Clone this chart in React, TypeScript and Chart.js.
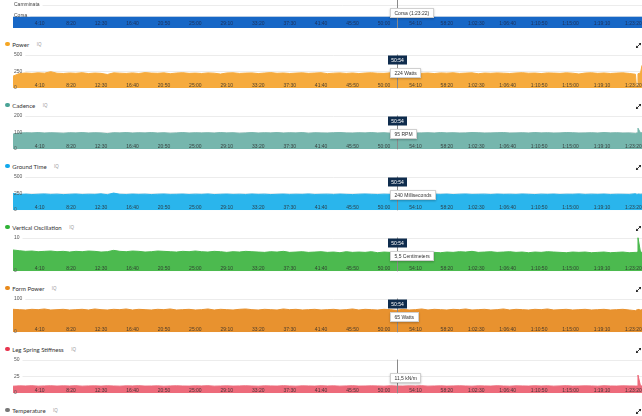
import React, { useEffect, useRef } from 'react';
import { Chart, registerables } from 'chart.js';
Chart.register(...registerables);

// ---------- data ----------
const SAMPLE_SEC = 50;
const BODY_COUNT = 100;
const tailTimes = [4958, 4964, 4970, 4990, 5002];
const END_SEC = 5002;
const CURSOR_SEC = 3054;
const CURSOR_LABEL = '50:54';

const xTickSeconds = [250, 500, 750, 1000, 1250, 1500, 1750, 2000, 2250, 2500, 2750, 3000, 3250, 3500, 3750, 4000, 4250, 4500, 4750, 5000];
const xTickLabels = ['4:10', '8:20', '12:30', '16:40', '20:50', '25:00', '29:10', '33:20', '37:30', '41:40', '45:50', '50:00', '54:10', '58:20', '1:02:30', '1:06:40', '1:10:50', '1:15:00', '1:19:10', '1:23:20'];

const activityCategories = ['Camminata', 'Corsa'];
const activitySegments: (number[] | null)[] = [null, [0, 5002]];
const activityTooltip = 'Corsa (1:23:22)';

const powerValues = [
  180, 218, 226, 221, 229, 224, 246, 223, 219, 227,
  222, 231, 218, 226, 221, 204, 229, 224, 220, 228,
  219, 232, 225, 222, 229, 216, 226, 231, 221, 225,
  219, 228, 224, 211, 227, 230, 220, 225, 228, 218,
  226, 232, 222, 227, 219, 225, 229, 221, 226, 231,
  217, 224, 228, 220, 227, 218, 226, 230, 223, 221,
  229, 225, 224, 227, 231, 222, 226, 218, 228, 224,
  230, 220, 225, 229, 215, 226, 222, 228, 224, 219,
  227, 231, 223, 226, 218, 228, 225, 221, 229, 224,
  212, 226, 230, 221, 227, 219, 225, 229, 220, 208,
  20, 25, 215, 228, 340,
];
const powerTicks = [0, 250, 500];

const cadenceValues = [
  90, 96, 98, 97, 99, 96, 98, 97, 95, 98,
  97, 99, 96, 98, 97, 93, 98, 97, 99, 96,
  98, 97, 99, 96, 98, 95, 97, 99, 96, 98,
  97, 98, 96, 99, 97, 98, 95, 97, 99, 96,
  98, 97, 99, 96, 98, 97, 99, 95, 98, 97,
  96, 98, 99, 97, 96, 98, 97, 99, 96, 98,
  95, 97, 98, 99, 96, 97, 98, 96, 99, 97,
  98, 96, 97, 99, 98, 96, 97, 98, 99, 96,
  97, 98, 96, 99, 97, 98, 96, 97, 99, 98,
  96, 97, 98, 96, 99, 97, 98, 96, 97, 94,
  96, 97, 125, 97, 98,
];
const cadenceTicks = [0, 100, 200];

const groundValues = [
  250, 236, 240, 233, 238, 242, 235, 239, 232, 237,
  241, 234, 238, 236, 243, 231, 255, 237, 234, 240,
  236, 239, 233, 238, 241, 235, 237, 240, 234, 239,
  236, 242, 233, 237, 240, 235, 238, 234, 241, 236,
  239, 233, 237, 240, 235, 238, 236, 242, 234, 237,
  239, 235, 240, 236, 233, 238, 241, 237, 234, 239,
  236, 240, 235, 238, 242, 234, 237, 239, 236, 240,
  233, 238, 241, 235, 237, 239, 234, 240, 236, 238,
  235, 241, 237, 233, 239, 236, 240, 234, 238, 237,
  242, 235, 239, 236, 240, 234, 238, 237, 235, 245,
  238, 236, 240, 237, 239,
];
const groundTicks = [0, 250, 500];

const oscillationValues = [
  6.3, 6.1, 5.9, 6.0, 5.8, 5.9, 6.0, 5.8, 5.9, 5.7,
  5.9, 5.8, 6.0, 5.9, 5.7, 5.8, 6.2, 5.9, 5.8, 6.0,
  5.9, 5.7, 5.8, 6.0, 5.9, 5.8, 5.7, 5.9, 5.8, 6.0,
  5.8, 5.7, 5.9, 5.8, 5.6, 5.8, 5.7, 5.9, 5.8, 5.7,
  5.6, 5.8, 5.7, 5.9, 5.6, 5.7, 5.8, 5.6, 5.7, 5.8,
  5.6, 5.7, 5.5, 5.8, 5.6, 5.7, 5.6, 5.8, 5.5, 5.7,
  5.6, 5.5, 5.7, 5.6, 5.8, 5.5, 5.7, 5.6, 5.5, 5.7,
  5.6, 5.8, 5.7, 5.9, 5.6, 5.7, 5.8, 5.6, 5.7, 5.8,
  5.6, 5.7, 5.5, 5.7, 5.6, 5.8, 5.7, 5.6, 5.5, 5.7,
  5.6, 5.7, 5.5, 5.6, 5.7, 5.5, 5.6, 5.7, 5.5, 5.6,
  5.6, 5.7, 10.0, 5.7, 5.6,
];
const oscillationTicks = [0, 10];

const formPowerValues = [
  68, 67, 66, 68, 67, 69, 66, 67, 68, 66,
  67, 68, 66, 69, 67, 66, 68, 67, 69, 66,
  68, 67, 66, 68, 67, 69, 66, 67, 68, 66,
  67, 69, 66, 68, 67, 66, 68, 69, 67, 66,
  68, 67, 66, 69, 67, 68, 66, 67, 68, 66,
  67, 68, 66, 67, 69, 66, 68, 67, 66, 68,
  67, 65, 68, 66, 67, 69, 66, 68, 67, 66,
  68, 67, 69, 66, 67, 68, 66, 67, 69, 66,
  68, 67, 66, 68, 67, 69, 66, 67, 68, 66,
  67, 68, 66, 67, 68, 66, 67, 68, 66, 64,
  66, 67, 68, 66, 67,
];
const formPowerTicks = [0, 100];

const stiffnessValues = [
  10.5, 11.0, 10.8, 11.2, 10.6, 10.9, 11.1, 10.7, 11.0, 10.8,
  11.2, 10.6, 10.9, 11.0, 10.7, 11.1, 10.8, 10.6, 11.0, 10.9,
  11.2, 10.7, 10.8, 11.0, 10.6, 10.9, 11.1, 10.8, 10.7, 11.0,
  10.9, 11.2, 10.6, 10.8, 11.0, 10.7, 10.9, 11.1, 10.8, 10.6,
  11.0, 10.9, 10.7, 11.2, 10.8, 10.6, 11.0, 10.9, 10.7, 11.1,
  10.8, 11.0, 10.6, 10.9, 11.2, 10.7, 10.8, 11.0, 10.9, 10.6,
  11.1, 10.8, 10.7, 11.0, 10.9, 11.2, 10.6, 10.8, 11.0, 10.7,
  10.9, 11.1, 10.8, 10.6, 11.0, 10.9, 10.7, 11.2, 10.8, 10.6,
  11.0, 10.9, 10.7, 11.1, 10.8, 11.0, 10.6, 10.9, 11.2, 10.7,
  10.8, 11.0, 10.9, 10.6, 11.1, 10.8, 10.7, 11.0, 10.9, 10.8,
  10.8, 10.9, 27, 11.0, 10.8,
];
const stiffnessTicks = [0, 25, 50];

// ---------- layout ----------
const W = 642;
const PANEL_TOP = 44;
const PANEL_STEP = 61;
const TICK_FONT = '5px "Liberation Sans", Arial, sans-serif';

type PanelCfg = {
  title: string;
  dot: string;
  fill: string;
  values: number[] | null;
  ticks: number[];
  tooltip: string;
  timeBox: boolean;
};

const panels: PanelCfg[] = [
  { title: 'Power', dot: '#f5a623', fill: '#f6ab3e', values: powerValues, ticks: powerTicks, tooltip: '224 Watts', timeBox: true },
  { title: 'Cadence', dot: '#4aa396', fill: '#76b6ad', values: cadenceValues, ticks: cadenceTicks, tooltip: '95 RPM', timeBox: true },
  { title: 'Ground Time', dot: '#11a9ed', fill: '#2ab5ec', values: groundValues, ticks: groundTicks, tooltip: '240 Milliseconds', timeBox: true },
  { title: 'Vertical Oscillation', dot: '#2fb236', fill: '#4cba4f', values: oscillationValues, ticks: oscillationTicks, tooltip: '5,5 Centimeters', timeBox: true },
  { title: 'Form Power', dot: '#e8891a', fill: '#e8922f', values: formPowerValues, ticks: formPowerTicks, tooltip: '65 Watts', timeBox: true },
  { title: 'Leg Spring Stiffness', dot: '#e8344f', fill: '#ed6b7b', values: stiffnessValues, ticks: stiffnessTicks, tooltip: '11,5 kN/m', timeBox: false },
  { title: 'Temperature', dot: '#777777', fill: '#999999', values: null, ticks: [], tooltip: '', timeBox: false },
];

function toPoints(values: number[]) {
  return values.map((v, i) => ({ x: i < BODY_COUNT ? i * SAMPLE_SEC : tailTimes[i - BODY_COUNT], y: v }));
}

function drawTooltip(ctx: CanvasRenderingContext2D, text: string, left: number, top: number) {
  ctx.save();
  ctx.font = TICK_FONT;
  const w = Math.round(ctx.measureText(text).width + 9);
  ctx.shadowColor = 'rgba(0,0,0,0.25)';
  ctx.shadowBlur = 2;
  ctx.shadowOffsetY = 1;
  ctx.fillStyle = '#ffffff';
  ctx.fillRect(left, top, w, 10);
  ctx.shadowColor = 'transparent';
  ctx.strokeStyle = '#d0d0d0';
  ctx.lineWidth = 1;
  ctx.strokeRect(left + 0.5, top + 0.5, w - 1, 9);
  ctx.fillStyle = '#333333';
  ctx.textBaseline = 'middle';
  ctx.textAlign = 'left';
  ctx.fillText(text, left + 4.5, top + 5.3);
  ctx.restore();
}

function drawXLabels(chart: any, offset: number, color: string) {
  const { ctx, chartArea, scales } = chart;
  ctx.save();
  ctx.font = TICK_FONT;
  ctx.fillStyle = color;
  ctx.textAlign = 'right';
  ctx.textBaseline = 'middle';
  xTickSeconds.forEach((s, i) => {
    const px = scales.x.getPixelForValue(s);
    ctx.fillText(xTickLabels[i], px, chartArea.bottom - offset);
  });
  ctx.restore();
}

function drawCursor(chart: any, fromY: number) {
  const { ctx, chartArea, scales } = chart;
  const cx = Math.round(scales.x.getPixelForValue(CURSOR_SEC)) + 0.5;
  ctx.save();
  ctx.strokeStyle = '#8a8a8a';
  ctx.lineWidth = 1;
  ctx.beginPath();
  ctx.moveTo(cx, fromY);
  ctx.lineTo(cx, chartArea.bottom);
  ctx.stroke();
  ctx.restore();
  return cx;
}

function metricPlugin(cfg: PanelCfg) {
  return {
    id: 'metricOverlay',
    beforeDatasetsDraw(chart: any) {
      const { ctx, chartArea, scales } = chart;
      ctx.save();
      ctx.font = TICK_FONT;
      ctx.strokeStyle = '#ececec';
      ctx.lineWidth = 1;
      cfg.ticks.forEach((v) => {
        if (v === 0) return;
        const py = Math.round(scales.y.getPixelForValue(v)) + 0.5;
        const w = ctx.measureText(String(v)).width;
        ctx.beginPath();
        ctx.moveTo(chartArea.left + w + 4, py);
        ctx.lineTo(chartArea.right, py);
        ctx.stroke();
      });
      ctx.restore();
    },
    afterDatasetsDraw(chart: any) {
      const { ctx, chartArea, scales } = chart;
      drawXLabels(chart, 2.8, 'rgba(45,45,45,0.85)');
      ctx.save();
      ctx.font = TICK_FONT;
      ctx.fillStyle = '#555555';
      ctx.textAlign = 'left';
      ctx.textBaseline = 'middle';
      cfg.ticks.forEach((v) => {
        const py = scales.y.getPixelForValue(v);
        ctx.fillText(String(v), chartArea.left + 1, v === 0 ? py - 1 : py);
      });
      ctx.restore();
      const cx = drawCursor(chart, chartArea.top);
      if (cfg.timeBox) {
        ctx.save();
        ctx.font = TICK_FONT;
        const w = Math.round(ctx.measureText(CURSOR_LABEL).width + 6);
        const left = Math.round(cx - w / 2);
        ctx.fillStyle = '#0f2c4d';
        ctx.fillRect(left, chartArea.top + 1, w, 9);
        ctx.fillStyle = '#ffffff';
        ctx.textAlign = 'center';
        ctx.textBaseline = 'middle';
        ctx.fillText(CURSOR_LABEL, left + w / 2, chartArea.top + 5.7);
        ctx.restore();
      }
      drawTooltip(ctx, cfg.tooltip, Math.round(cx - 8), Math.round(chartArea.top + 13));
    },
  };
}

const activityPlugin = {
  id: 'activityOverlay',
  beforeDatasetsDraw(chart: any) {
    const { ctx, chartArea, scales } = chart;
    ctx.save();
    ctx.font = TICK_FONT;
    ctx.strokeStyle = '#ececec';
    ctx.lineWidth = 1;
    activityCategories.forEach((c, i) => {
      const rowTop = scales.y.getPixelForValue(i) - 5.5;
      const w = ctx.measureText(c).width;
      const py = Math.round(rowTop - 1) + 0.5;
      ctx.beginPath();
      ctx.moveTo(chartArea.left + w + 4, py);
      ctx.lineTo(chartArea.right, py);
      ctx.stroke();
    });
    ctx.restore();
  },
  afterDatasetsDraw(chart: any) {
    const { ctx, chartArea, scales } = chart;
    drawXLabels(chart, 4.3, 'rgba(30,40,70,0.85)');
    ctx.save();
    ctx.font = TICK_FONT;
    ctx.fillStyle = '#444444';
    ctx.textAlign = 'left';
    ctx.textBaseline = 'middle';
    activityCategories.forEach((c, i) => {
      const rowTop = scales.y.getPixelForValue(i) - 5.5;
      ctx.fillText(c, chartArea.left + 1, rowTop - 1.8);
    });
    ctx.restore();
    const cx = drawCursor(chart, 0);
    drawTooltip(ctx, activityTooltip, Math.round(cx - 8), 8);
  },
};

function ActivityChart() {
  const ref = useRef<HTMLCanvasElement>(null);
  useEffect(() => {
    const chart = new Chart(ref.current as HTMLCanvasElement, {
      type: 'bar',
      data: {
        labels: activityCategories,
        datasets: [{ data: activitySegments as any, backgroundColor: '#1767c6', borderWidth: 0, barPercentage: 1, categoryPercentage: 1 }],
      },
      options: {
        indexAxis: 'y',
        animation: false,
        responsive: false,
        layout: { padding: { left: 13, right: 0, top: 6, bottom: 2 } },
        scales: {
          x: { type: 'linear', min: 0, max: END_SEC, display: false },
          y: { type: 'category', display: false },
        },
        plugins: { legend: { display: false }, tooltip: { enabled: false } },
      },
      plugins: [activityPlugin],
    });
    return () => chart.destroy();
  }, []);
  return <canvas ref={ref} width={W} height={30} style={{ position: 'absolute', left: 0, top: 0, width: W, height: 30 }} />;
}

function MetricChart({ cfg, top }: { cfg: PanelCfg; top: number }) {
  const ref = useRef<HTMLCanvasElement>(null);
  useEffect(() => {
    if (!cfg.values) return;
    const max = cfg.ticks[cfg.ticks.length - 1];
    const chart = new Chart(ref.current as HTMLCanvasElement, {
      type: 'line',
      data: {
        datasets: [{
          data: toPoints(cfg.values),
          fill: 'origin',
          backgroundColor: cfg.fill,
          borderColor: cfg.fill,
          borderWidth: 1,
          pointRadius: 0,
          tension: 0,
        }],
      },
      options: {
        animation: false,
        responsive: false,
        layout: { padding: { left: 13, right: 0, top: 14.5, bottom: 1.7 } },
        scales: {
          x: { type: 'linear', min: 0, max: END_SEC, display: false },
          y: { type: 'linear', min: 0, max, display: false },
        },
        plugins: { legend: { display: false }, tooltip: { enabled: false } },
      },
      plugins: [metricPlugin(cfg)],
    });
    return () => chart.destroy();
  }, []);
  if (!cfg.values) return null;
  return <canvas ref={ref} width={W} height={50} style={{ position: 'absolute', left: 0, top: top - 4, width: W, height: 50 }} />;
}

function ExpandIcon({ top }: { top: number }) {
  return (
    <svg width={7} height={7} viewBox="0 0 7 7" style={{ position: 'absolute', left: 635, top: top - 3 }}>
      <path d="M1.2 5.8 L5.8 1.2" stroke="#222" strokeWidth={0.9} />
      <path d="M3.6 1 L6 1 L6 3.4 Z" fill="#222" />
      <path d="M1 3.6 L1 6 L3.4 6 Z" fill="#222" />
    </svg>
  );
}

function Header({ cfg, top }: { cfg: PanelCfg; top: number }) {
  return (
    <>
      <div style={{ position: 'absolute', left: 5, top: top - 5, height: 10, display: 'flex', alignItems: 'center', fontFamily: 'Lato, "Open Sans", sans-serif', fontSize: 6, color: '#333', whiteSpace: 'nowrap' }}>
        <span style={{ width: 4.5, height: 4.5, borderRadius: '50%', background: cfg.dot, display: 'inline-block', marginRight: 2.8 }} />
        <span>{cfg.title}</span>
        <span style={{ marginLeft: 7.5, fontSize: 4.5, color: '#9a9a9a', fontFamily: '"Liberation Sans", Arial, sans-serif' }}>IQ</span>
      </div>
      <ExpandIcon top={top + 1} />
    </>
  );
}

export default function App() {
  return (
    <div style={{ position: 'absolute', left: 0, top: 0, width: W, height: 416, overflow: 'hidden', background: '#fff' }}>
      <ActivityChart />
      {panels.map((p, i) => {
        const top = PANEL_TOP + i * PANEL_STEP;
        return (
          <React.Fragment key={p.title}>
            <Header cfg={p} top={top} />
            <MetricChart cfg={p} top={top} />
          </React.Fragment>
        );
      })}
    </div>
  );
}
